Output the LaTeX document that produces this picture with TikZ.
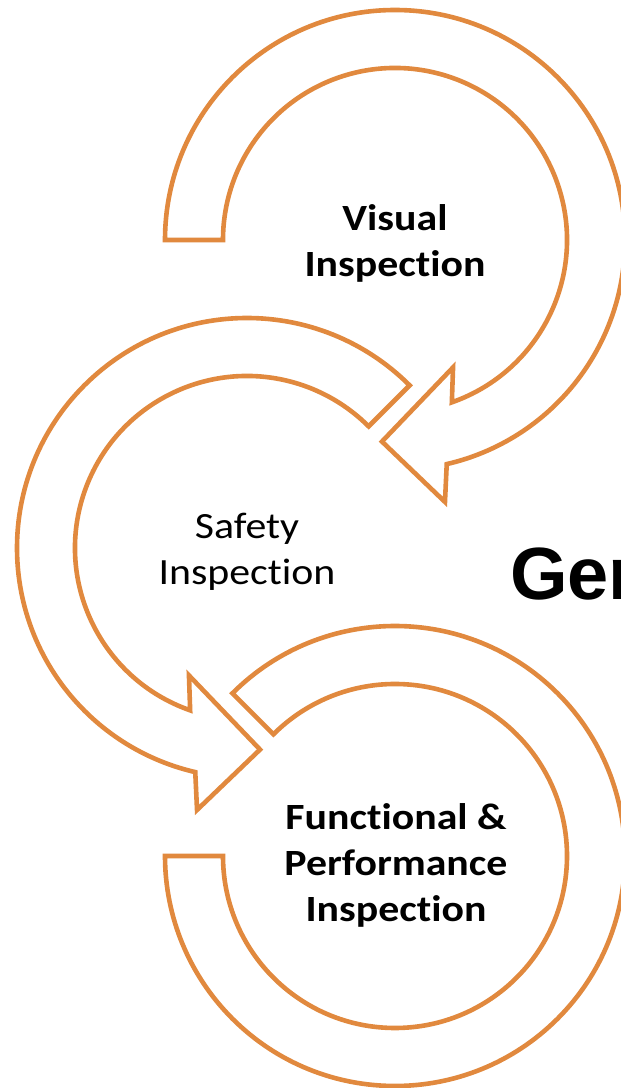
\documentclass[tikz,border=0pt]{standalone}
\usepackage{fontspec}
\setmainfont[Ligatures=NoCommon, FakeStretch=1.13]{Carlito}
\newfontfamily\headfont{Liberation Sans}
\usetikzlibrary{calc}
\definecolor{ringorange}{RGB}{225,137,62}

\begin{document}
\begin{tikzpicture}[x=1pt,y=1pt,
    ringarrow/.style={draw=ringorange, line width=4.6pt, fill=white},
    ringtext/.style={align=center, font=\fontsize{37}{46}\selectfont#1},
    ringtext/.default={}]
  \useasboundingbox (0,0) rectangle (621,1088);
  \clip (0,0) rectangle (621,1088);
  \coordinate (c1) at (395,848);
  \coordinate (c2) at (247,540);
  \coordinate (c3) at (395,232);

  % top ring, clockwise from the left end
  \draw[ringarrow, shift={(c1)}] (180:230) arc[start angle=180, end angle=-77, radius=230]
    -- (-79.2:266.7) -- (-93.7:202) -- (-65.5:140) -- (-70.7:172)
    arc[start angle=-70.7, end angle=180, radius=172] -- cycle;
  % middle ring, counter clockwise
  \draw[ringarrow, shift={(c2)}] (45:230) arc[start angle=45, end angle=257, radius=230]
    -- (259.2:266.7) -- (273.7:202) -- (245.5:140) -- (250.7:172)
    arc[start angle=250.7, end angle=45, radius=172] -- cycle;
  % bottom ring, no head
  \draw[ringarrow, shift={(c3)}] (135:230) arc[start angle=135, end angle=-180, radius=230]
    -- (-180:172) arc[start angle=-180, end angle=135, radius=172] -- cycle;

  \node[ringtext=\bfseries] (visual) at ($(c1)+(0,-3)$) {Visual\\Inspection};
  \node[ringtext] (safety) at ($(c2)+(0,-4)$) {Safety\\Inspection};
  \node[ringtext=\bfseries] (functional) at ($(c3)+(1,-9)$) {Functional \&\\Performance\\Inspection};
  \node[anchor=base west, inner sep=0pt, font=\headfont\bfseries\fontsize{74}{88}\selectfont] (gen) at (510,488) {Gen};
\end{tikzpicture}
\end{document}
